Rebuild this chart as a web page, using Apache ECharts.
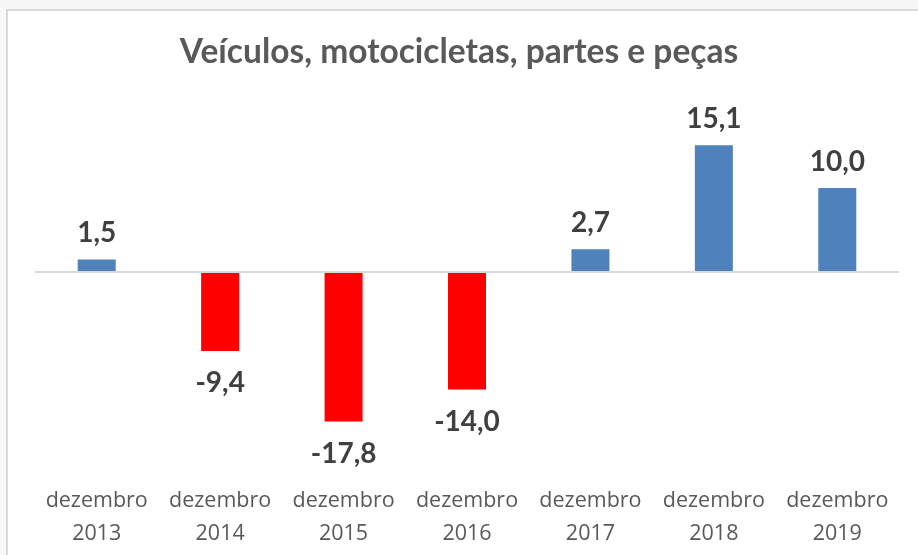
<!DOCTYPE html>
<html>
<head>
<meta charset="utf-8">
<title>Veículos, motocicletas, partes e peças</title>
<script src="https://cdn.jsdelivr.net/npm/echarts@6/dist/echarts.min.js"></script>
</head>
<body style="margin:0;padding:0">
<div id="main" style="width:918px;height:555px"></div>
<script>
var categories = ['dezembro\n2013', 'dezembro\n2014', 'dezembro\n2015', 'dezembro\n2016', 'dezembro\n2017', 'dezembro\n2018', 'dezembro\n2019'];
var values = [1.5, -9.4, -17.8, -14.0, 2.7, 15.1, 10.0];

var chart = echarts.init(document.getElementById('main'));

var barData = values.map(function (v) {
  return {
    value: v,
    itemStyle: { color: v < 0 ? '#FF0000' : '#4F81BD' },
    label: { position: v < 0 ? 'bottom' : 'top', distance: v < 0 ? 18 : 12 }
  };
});

var option = {
  backgroundColor: '#f7f7f7',
  animation: false,
  graphic: [{
    type: 'rect',
    z: -10,
    shape: { x: 7, y: 10, width: 930, height: 570 },
    style: { fill: '#ffffff', stroke: '#d9d9d9', lineWidth: 2 }
  }],
  title: {
    text: 'Veículos, motocicletas, partes e peças',
    left: 'center',
    top: 30,
    textStyle: { fontFamily: 'Lato', fontWeight: 'bold', fontSize: 33.5, color: '#595959' }
  },
  grid: { left: 35, right: 19, top: 137.6, bottom: 73 },
  xAxis: {
    type: 'category',
    data: categories,
    axisLine: { show: false },
    axisTick: { show: false },
    axisLabel: {
      margin: 2,
      fontFamily: 'Open Sans',
      fontSize: 21.5,
      lineHeight: 33,
      color: '#595959',
      interval: 0
    }
  },
  yAxis: {
    type: 'value',
    min: -25,
    max: 16,
    show: false
  },
  series: [{
    type: 'bar',
    data: barData,
    barWidth: 38,
    label: {
      show: true,
      fontFamily: 'Lato',
      fontWeight: 'bold',
      fontSize: 28,
      color: '#404040',
      formatter: function (p) { return p.value.toFixed(1).replace('.', ','); }
    },
    markLine: {
      silent: true,
      symbol: 'none',
      label: { show: false },
      lineStyle: { color: '#d9d9d9', width: 2, type: 'solid' },
      data: [{ yAxis: 0 }]
    }
  }]
};
chart.setOption(option);
</script>
</body>
</html>
